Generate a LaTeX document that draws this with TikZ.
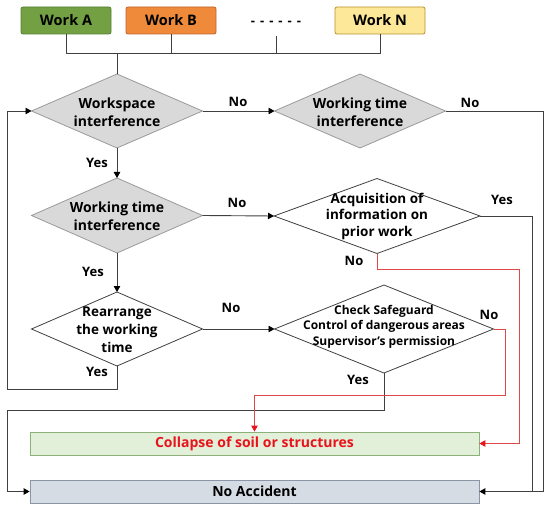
\documentclass[tikz,border=0pt]{standalone}
\usepackage{fontspec}
\setmainfont{Open Sans}
\usetikzlibrary{shapes.geometric,arrows.meta}
\definecolor{wagreen}{HTML}{72A043}
\definecolor{wagreenD}{HTML}{587F33}
\definecolor{wborange}{HTML}{EE8A3A}
\definecolor{wborangeD}{HTML}{C0652A}
\definecolor{wnyellow}{HTML}{FDE89A}
\definecolor{wnyellowD}{HTML}{B8902A}
\definecolor{diafill}{HTML}{D9D9D9}
\definecolor{diadraw}{HTML}{9A9A9A}
\definecolor{linegray}{HTML}{404040}
\definecolor{colfill}{HTML}{E2EFD9}
\definecolor{coldraw}{HTML}{8DB07A}
\definecolor{nafill}{HTML}{D6DCE4}
\definecolor{nadraw}{HTML}{8A96A8}
\definecolor{redline}{HTML}{E04848}
\definecolor{redtext}{HTML}{E8141C}
\newcommand{\dgap}{\hspace{5pt}}
\begin{document}
\begin{tikzpicture}[x=1pt,y=-1pt,font=\bfseries,
  workbox/.style={rectangle, rounded corners=2pt, minimum width=90pt, minimum height=27pt, line width=0.8pt, inner sep=0pt, font=\bfseries\fontsize{14.5}{16}\selectfont},
  diabase/.style={diamond, inner sep=0pt, outer sep=0pt, line width=0.8pt},
  graydia/.style={diabase, draw=diadraw, fill=diafill},
  whitedia/.style={diabase, draw=linegray, fill=white},
  diatext/.style={align=center, inner sep=0pt, font=\bfseries\fontsize{14}{18}\selectfont},
  bar/.style={rectangle, minimum width=449pt, minimum height=23pt, line width=0.8pt, inner sep=0pt, font=\bfseries\fontsize{14}{16}\selectfont},
  lbl/.style={inner sep=0pt, font=\bfseries\fontsize{13}{15}\selectfont},
  conn/.style={draw=linegray, line width=0.9pt},
  arr/.style={conn, -{Triangle[length=6pt,width=6.5pt,color=black]}},
  rconn/.style={draw=redline, line width=0.85pt},
  rarr/.style={rconn, -{Triangle[length=6pt,width=6.5pt,color=redtext]}}]
\useasboundingbox (0,0) rectangle (550,511);

% top work boxes
\node[workbox, draw=wagreenD, fill=wagreen] (wa) at (66,20.5) {Work A};
\node[workbox, draw=wborangeD, fill=wborange] (wb) at (171,20.5) {Work B};
\node[lbl, font=\bfseries\fontsize{13}{15}\selectfont] (wd) at (276,23) {-\dgap-\dgap-\dgap-\dgap-\dgap-};
\node[workbox, draw=wnyellowD, fill=wnyellow] (wn) at (380,20.5) {Work N};
\coordinate (wdb) at (276,36);
\coordinate (busy) at (0,53);

% diamonds
\node[graydia, minimum width=171pt, minimum height=74pt] (d1) at (117,111) {};
\node[diatext] (d1t) at (117,112) {Workspace\\interference};
\node[graydia, minimum width=171pt, minimum height=74pt] (d2) at (360,111) {};
\node[diatext] (d2t) at (360,112) {Working time\\interference};
\node[graydia, minimum width=171pt, minimum height=75pt] (d3) at (117,215.5) {};
\node[diatext] (d3t) at (117,216) {Working time\\interference};
\node[whitedia, minimum width=206pt, minimum height=75pt] (d4) at (377,216) {};
\node[diatext, font=\bfseries\fontsize{13.5}{16.5}\selectfont] (d4t) at (377,216) {Acquisition of\\information on\\prior work};
\node[whitedia, minimum width=171pt, minimum height=74pt] (d5) at (117,329) {};
\node[diatext, font=\bfseries\fontsize{13.5}{18}\selectfont] (d5t) at (117,330) {Rearrange\\the working\\time};
\node[whitedia, minimum width=219pt, minimum height=88pt] (d6) at (384,329) {};
\node[diatext, font=\bfseries\fontsize{12}{15.5}\selectfont] (d6t) at (384,326.5) {Check Safeguard\\Control of dangerous areas\\Supervisor's permission};

% bottom bars
\node[bar, draw=coldraw, fill=colfill, text=redtext] (col) at (254.5,443.5) {Collapse of soil or structures};
\node[bar, draw=nadraw, fill=nafill] (na) at (254.5,491.5) {No Accident};

% bus from work boxes
\draw[conn] (wa.south) -- (wa.south |- busy) -- (wn.south |- busy) -- (wn.south);
\draw[conn] (wb.south) -- (wb.south |- busy);
\draw[conn] (wdb) -- (wdb |- busy);
\draw[conn] (d1.north |- busy) -- (d1.north);

% coordinates for routing
\coordinate (r2a) at (543,111);
\coordinate (r4a) at (532,216);
\coordinate (rr1a) at (519,269);
\coordinate (rr2a) at (505,329);
\coordinate (rr2b) at (505,395);
\coordinate (lp) at (7,389);
\coordinate (ly) at (7,410);

% connectors
\draw[arr] (d1.east) -- (d2.west);
\draw[arr] (d1.south) -- (d3.north);
\draw[arr] (d3.east) -- (d4.west);
\draw[arr] (d3.south) -- (d5.north);
\draw[arr] (d5.east) -- (d6.west);
\draw[arr] (d2.east) -- (r2a) -- (r2a |- na.east) -- (na.east);
\draw[conn] (d4.east) -- (r4a) -- (r4a |- na.east);
\draw[arr] (d5.south) -- (d5.south |- lp) -- (lp) -- (lp |- d1.west) -- (d1.west);
\draw[arr] (d6.south) -- (d6.south |- ly) -- (ly) -- (ly |- na.west) -- (na.west);
\draw[rarr] (d4.south) -- (d4.south |- rr1a) -- (rr1a) -- (rr1a |- col.east) -- (col.east);
\draw[rarr] (d6.east) -- (rr2a) -- (rr2b) -- (col.north |- rr2b) -- (col.north);

% labels
\node[lbl] (l1) at (238,102) {No};
\node[lbl] (l2) at (470,103) {No};
\node[lbl] (l3) at (97,163) {Yes};
\node[lbl] (l4) at (237,203) {No};
\node[lbl] (l5) at (502,200) {Yes};
\node[lbl] (l6) at (354,261) {No};
\node[lbl] (l7) at (93,272) {Yes};
\node[lbl] (l8) at (231,308) {No};
\node[lbl] (l9) at (489,315) {No};
\node[lbl] (l10) at (97,372) {Yes};
\node[lbl] (l11) at (358,380) {Yes};
\end{tikzpicture}
\end{document}
